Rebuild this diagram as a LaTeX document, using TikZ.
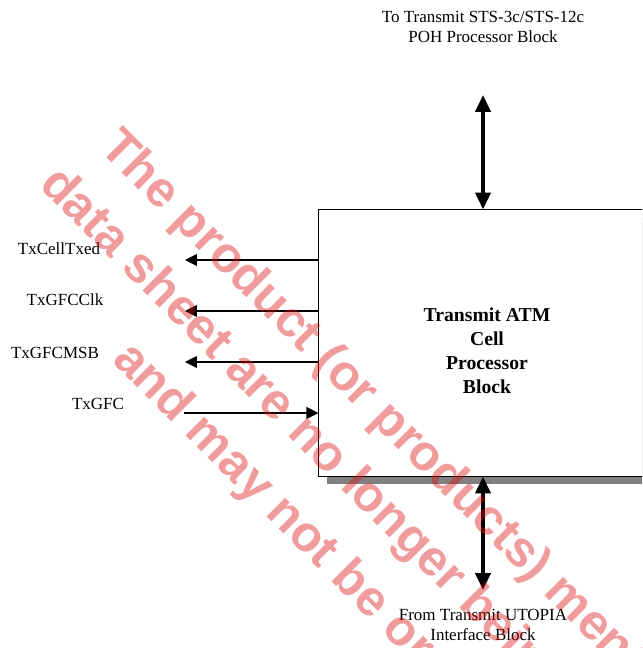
\documentclass[tikz,border=0pt]{standalone}
\usepackage{fontspec}
\setmainfont{Liberation Serif}
\newfontfamily\wmfont{Liberation Sans}
\usetikzlibrary{arrows.meta}
\definecolor{wmred}{RGB}{222,20,20}
\tikzset{
  sig/.style={line width=0.75pt,-{Triangle[length=8.5pt,width=8.5pt]}},
  bus/.style={line width=2.6pt,{Triangle[length=12pt,width=10.7pt]}-{Triangle[length=12pt,width=10.7pt]}},
  pinlbl/.style={font=\fontsize{12.1}{14.2}\selectfont,inner sep=0pt},
  wmark/.style={anchor=base west,rotate=-45,text=wmred,text opacity=0.42,inner sep=0pt,
    font=\wmfont\bfseries\fontsize{35.6}{40}\selectfont}
}
\begin{document}
\begin{tikzpicture}[x=0.025cm,y=-0.025cm]
\clip (0,0) rectangle (642,648);
\fill[gray] (327,218) rectangle (663,484);
\node[draw,fill=white,line width=0.75pt,minimum width=8.4cm,minimum height=6.65cm,inner sep=0pt] (txatm) at (487,343) {};
\node[font=\bfseries\fontsize{14}{17}\selectfont,align=center] (txatmtxt) at (487,351) {Transmit ATM\\Cell\\Processor\\Block};
\node[pinlbl,align=center] (pohlbl) at (483,27) {To Transmit STS-3c/STS-12c\\POH Processor Block};
\node[pinlbl,align=center] (utopialbl) at (483,625) {From Transmit UTOPIA\\Interface Block};
\node[pinlbl] (celltxed) at (59,249) {TxCellTxed};
\node[pinlbl] (gfcclk) at (65,300) {TxGFCClk};
\node[pinlbl] (gfcmsb) at (55,353) {TxGFCMSB};
\node[pinlbl] (gfc) at (98,404) {TxGFC};
\coordinate (celltxedend) at (185,260);
\coordinate (gfcclkend) at (185,311);
\coordinate (gfcmsbend) at (185,362);
\coordinate (gfcstart) at (184,413);
\draw[sig] (txatm.west |- celltxedend) -- (celltxedend);
\draw[sig] (txatm.west |- gfcclkend) -- (gfcclkend);
\draw[sig] (txatm.west |- gfcmsbend) -- (gfcmsbend);
\draw[sig] (gfcstart) -- (gfcstart -| txatm.west);
\coordinate (pohend) at (483,95);
\coordinate (utopiaend) at (483,590);
\draw[bus] (pohend) -- (pohend |- txatm.north);
\draw[bus] (utopiaend |- txatm.south) -- (utopiaend);
\node[wmark] (wm1) at (98,149) {The product (or products) mentioned in this};
\node[wmark] (wm2) at (38,186) {data sheet are no longer being manufactured};
\node[wmark] (wm3) at (111,361) {and may not be ordered.};
\end{tikzpicture}
\end{document}
